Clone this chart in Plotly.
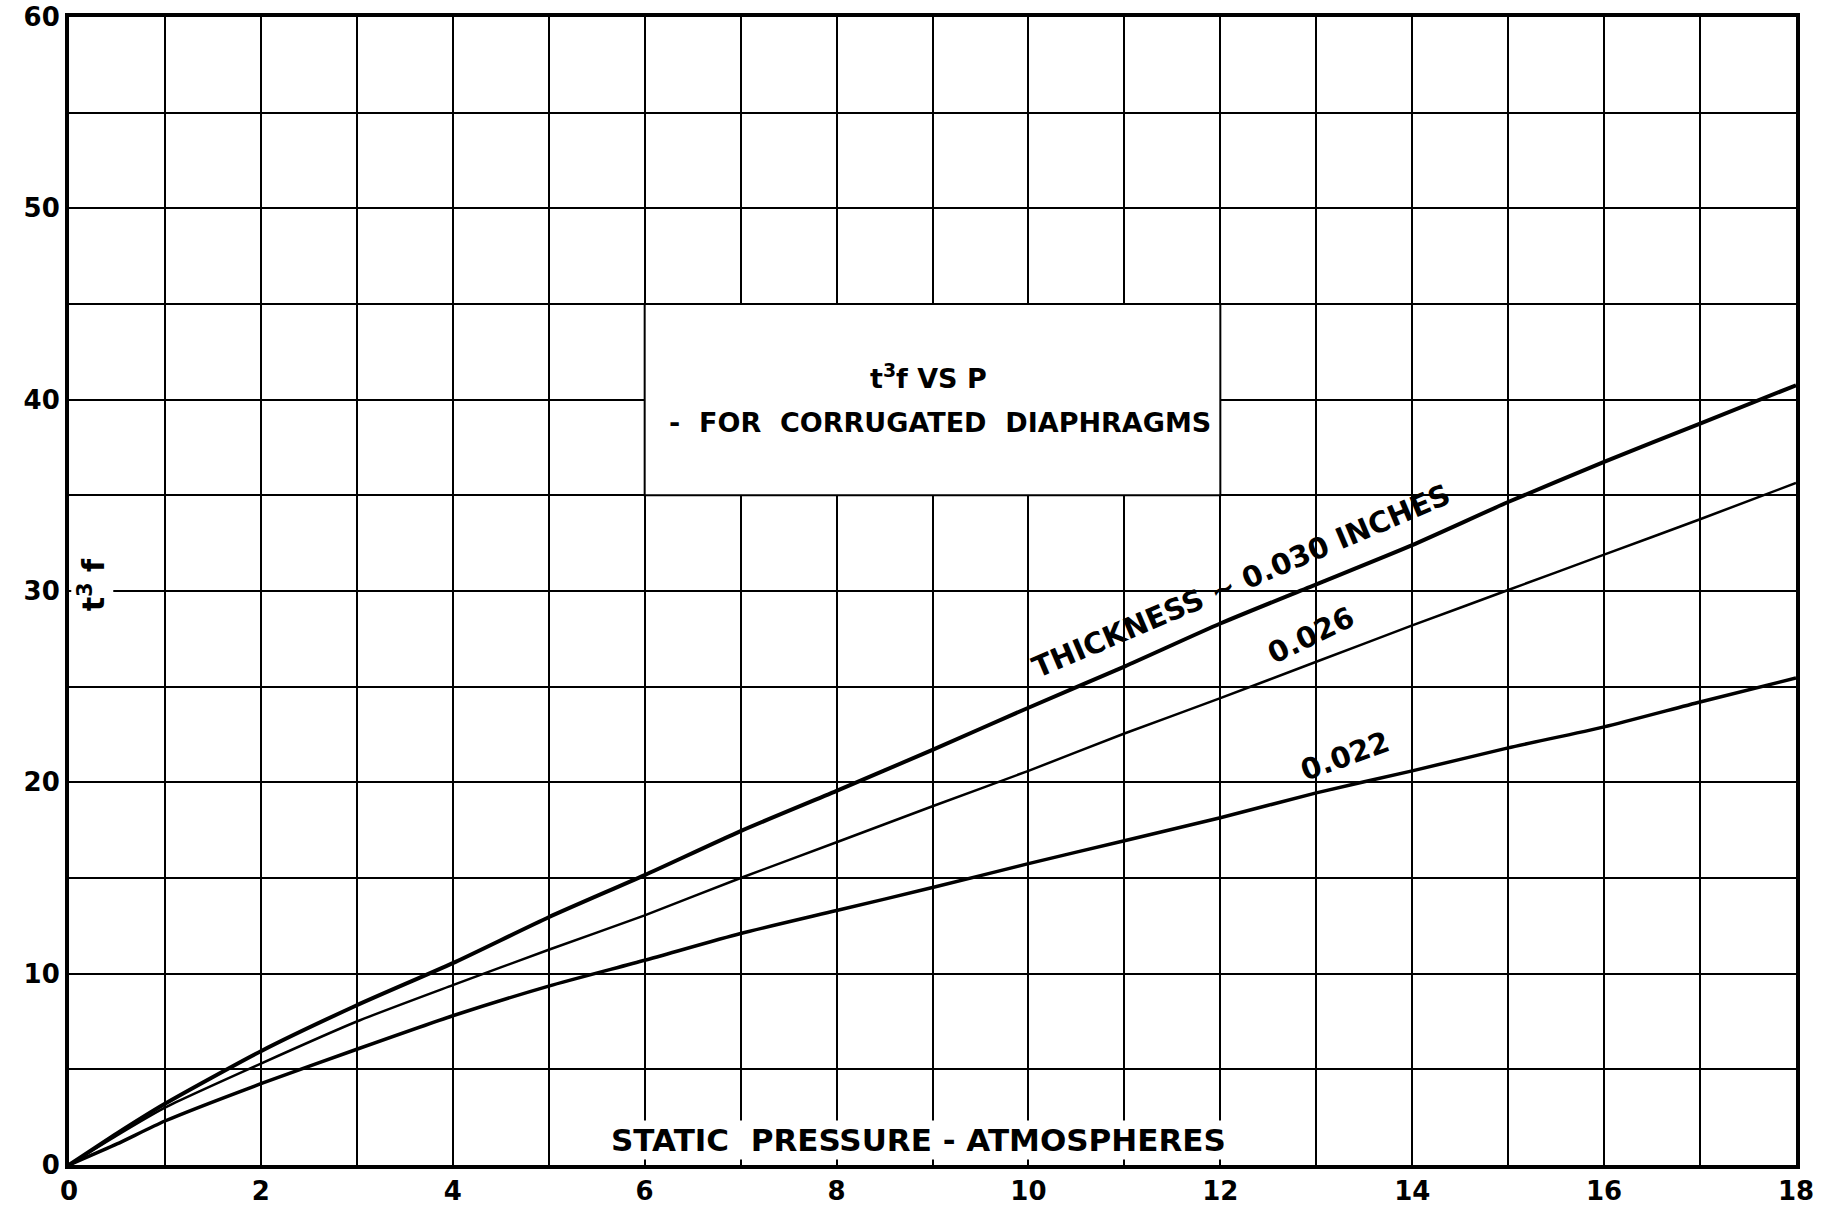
import plotly.graph_objects as go

# ---- data ----
pressure = [0, 0.5, 1, 2, 3, 4, 5, 6, 7, 8, 9, 10, 11, 12, 13, 14, 15, 16, 17, 18]
t030 = [0, 1.65, 3.2, 5.95, 8.35, 10.55, 12.95, 15.15, 17.45, 19.55, 21.7, 23.9,
        26.05, 28.3, 30.35, 32.4, 34.65, 36.75, 38.75, 40.75]
t026 = [0, 1.55, 3.0, 5.3, 7.5, 9.4, 11.25, 13.05, 15.0, 16.87, 18.75, 20.6,
        22.55, 24.4, 26.3, 28.2, 30.05, 31.9, 33.75, 35.65]
t022 = [0, 1.1, 2.3, 4.25, 6.05, 7.8, 9.35, 10.7, 12.1, 13.3, 14.5, 15.75,
        16.95, 18.15, 19.45, 20.6, 21.8, 22.9, 24.2, 25.45]

series_names = ["THICKNESS ~ 0.030 INCHES", "0.026", "0.022"]
x_tick_vals = [0, 2, 4, 6, 8, 10, 12, 14, 16, 18]
y_tick_vals = [0, 10, 20, 30, 40, 50, 60]

FONT = "DejaVu Sans"
INK = "black"

fig = go.Figure()
for ys, w, name in [(t030, 4, series_names[0]), (t026, 2.5, series_names[1]), (t022, 3.5, series_names[2])]:
    fig.add_trace(go.Scatter(x=pressure, y=ys, mode="lines", name=name,
                             line=dict(color=INK, width=w, shape="spline", smoothing=0.6),
                             showlegend=False, hoverinfo="x+y"))

# white title box hiding the grid
fig.add_shape(type="rect", x0=6, x1=12, y0=35, y1=45, xref="x", yref="y",
              fillcolor="white", line=dict(color=INK, width=2), layer="above")

ann_font = dict(family=FONT, size=27, color=INK, weight="bold")
fig.add_annotation(x=8.96, y=41.2, text="t<sup>3</sup>f VS P", showarrow=False,
                   font=ann_font, xanchor="center", yanchor="middle")
fig.add_annotation(x=9.08, y=38.8, text="-  FOR  CORRUGATED  DIAPHRAGMS", showarrow=False,
                   font=ann_font, xanchor="center", yanchor="middle")

# curve labels
fig.add_annotation(x=12.22, y=30.5, text=series_names[0], showarrow=False, textangle=-23,
                   font=dict(family=FONT, size=29, color=INK, weight="bold"),
                   xanchor="center", yanchor="middle")
fig.add_annotation(x=12.95, y=27.7, text=series_names[1], showarrow=False, textangle=-26,
                   font=dict(family=FONT, size=29, color=INK, weight="bold"),
                   xanchor="center", yanchor="middle")
fig.add_annotation(x=13.3, y=21.4, text=series_names[2], showarrow=False, textangle=-20,
                   font=dict(family=FONT, size=29, color=INK, weight="bold"),
                   xanchor="center", yanchor="middle")

# axis titles placed inside the plot
fig.add_annotation(x=8.85, y=1.3, text="STATIC  PRESSURE - ATMOSPHERES", showarrow=False,
                   font=dict(family=FONT, size=31, color=INK, weight="bold"),
                   bgcolor="white", borderpad=1, xanchor="center", yanchor="middle")
fig.add_annotation(x=0.24, y=30.3, text="t<sup>3</sup> f", showarrow=False, textangle=-90,
                   font=dict(family=FONT, size=30, color=INK, weight="bold"),
                   bgcolor="white", borderpad=1, xanchor="center", yanchor="middle")

axis_common = dict(showline=True, mirror=True, linecolor=INK, linewidth=4,
                   showgrid=True, gridcolor=INK, gridwidth=2, zeroline=False,
                   ticks="", automargin=False,
                   tickfont=dict(family=FONT, size=26, color=INK, weight="bold"))

fig.update_xaxes(range=[0, 18], tickvals=x_tick_vals, ticktext=[str(v) for v in x_tick_vals],
                 minor=dict(dtick=1, showgrid=True, gridcolor=INK, gridwidth=2, tick0=0),
                 **axis_common)
fig.update_yaxes(range=[0, 60], tickvals=y_tick_vals, ticktext=[str(v) for v in y_tick_vals],
                 minor=dict(dtick=5, showgrid=True, gridcolor=INK, gridwidth=2, tick0=0),
                 **axis_common)

fig.update_layout(width=1833, height=1209,
                  margin=dict(l=69, r=37, t=17, b=44, autoexpand=False),
                  paper_bgcolor="white", plot_bgcolor="white",
                  font=dict(family=FONT, color=INK))

fig.write_html("out.html", config={"displayModeBar": False},
               post_script="document.body.style.margin='0px';document.body.style.overflow='hidden';")
